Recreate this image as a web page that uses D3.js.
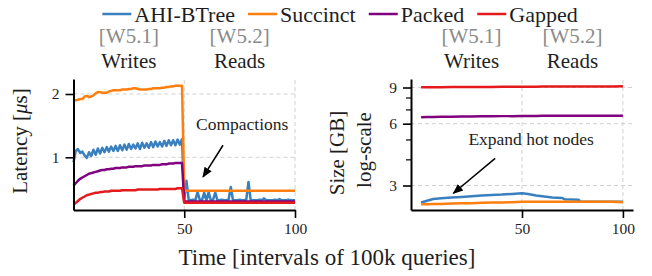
<!DOCTYPE html>
<html>
<head>
<meta charset="utf-8">
<script src="https://cdn.jsdelivr.net/npm/d3@7"></script>
<style>
  body { margin: 0; background: #fff; }
  svg { display: block; }
  text { font-family: 'Liberation Serif', 'Times New Roman', serif; }
</style>
</head>
<body>
<div id="chart"></div>
<script>
// Series and colours
const seriesNames = ["AHI-BTree", "Succinct", "Packed", "Gapped"];
const seriesColors = ["#3a80be", "#ff7f0e", "#800080", "#e41a1c"];

// Left panel: latency per interval (0..100)
const latencyTime = d3.range(0, 101);
const latencyAHI = [
  0.92,1.10,1.13,1.07,1.09,1.03,0.99,1.08,1.02,1.12,
  1.04,1.14,1.06,1.15,1.08,1.16,1.09,1.17,1.10,1.18,
  1.10,1.19,1.11,1.20,1.12,1.21,1.13,1.20,1.14,1.22,
  1.13,1.23,1.15,1.22,1.15,1.24,1.16,1.25,1.17,1.24,
  1.17,1.26,1.18,1.27,1.19,1.27,1.19,1.28,1.20,1.29,
  0.33,0.63,0.33,0.32,0.33,0.32,0.45,0.33,0.32,0.44,
  0.32,0.45,0.32,0.33,0.44,0.32,0.32,0.33,0.32,0.32,
  0.33,0.53,0.32,0.32,0.32,0.33,0.32,0.32,0.33,0.61,
  0.32,0.32,0.32,0.32,0.33,0.32,0.35,0.32,0.32,0.32,
  0.32,0.33,0.32,0.34,0.32,0.32,0.32,0.33,0.32,0.32,
  0.32
];
const latencySuccinct = [
  1.90,1.90,1.91,1.92,1.92,1.96,1.97,1.95,1.96,1.98,
  2.01,2.03,2.03,2.02,2.02,2.02,2.04,2.05,2.06,2.06,
  2.06,2.06,2.07,2.07,2.07,2.08,2.08,2.09,2.09,2.08,
  2.07,2.07,2.07,2.07,2.08,2.08,2.09,2.09,2.09,2.09,
  2.10,2.10,2.11,2.11,2.12,2.12,2.13,2.13,2.13,2.13,
  0.47,0.47,0.47,0.47,0.47,0.47,0.47,0.47,0.47,0.47,
  0.47,0.47,0.47,0.47,0.47,0.47,0.47,0.47,0.47,0.47,
  0.47,0.47,0.47,0.47,0.47,0.47,0.47,0.47,0.47,0.47,
  0.47,0.47,0.47,0.47,0.47,0.47,0.47,0.47,0.47,0.47,
  0.47,0.47,0.47,0.47,0.47,0.47,0.47,0.47,0.47,0.47,
  0.47
];
const latencyPacked = [
  0.55,0.59,0.63,0.66,0.68,0.70,0.72,0.74,0.75,0.76,
  0.77,0.78,0.79,0.80,0.80,0.81,0.81,0.82,0.82,0.83,
  0.83,0.83,0.84,0.84,0.84,0.85,0.85,0.85,0.86,0.86,
  0.86,0.86,0.87,0.87,0.87,0.87,0.88,0.88,0.88,0.88,
  0.89,0.89,0.89,0.90,0.90,0.90,0.91,0.91,0.91,0.91,
  0.30,0.30,0.30,0.30,0.30,0.30,0.30,0.30,0.30,0.30,
  0.30,0.30,0.30,0.30,0.30,0.30,0.30,0.30,0.30,0.30,
  0.30,0.30,0.30,0.30,0.30,0.30,0.30,0.30,0.30,0.30,
  0.30,0.30,0.30,0.30,0.30,0.30,0.30,0.30,0.30,0.30,
  0.30,0.30,0.30,0.30,0.30,0.30,0.30,0.30,0.30,0.30,
  0.30
];
const latencyGapped = [
  0.25,0.28,0.31,0.34,0.36,0.38,0.40,0.41,0.42,0.43,
  0.44,0.44,0.45,0.45,0.46,0.46,0.46,0.47,0.47,0.47,
  0.47,0.47,0.48,0.48,0.48,0.48,0.48,0.48,0.48,0.49,
  0.49,0.49,0.49,0.49,0.49,0.49,0.49,0.49,0.49,0.50,
  0.50,0.50,0.50,0.50,0.50,0.50,0.50,0.51,0.51,0.51,
  0.28,0.28,0.28,0.28,0.28,0.28,0.28,0.28,0.28,0.28,
  0.28,0.28,0.28,0.28,0.28,0.28,0.28,0.28,0.28,0.28,
  0.28,0.28,0.28,0.28,0.28,0.28,0.28,0.28,0.28,0.28,
  0.28,0.28,0.28,0.28,0.28,0.28,0.28,0.28,0.28,0.28,
  0.28,0.28,0.28,0.28,0.28,0.28,0.28,0.28,0.28,0.28,
  0.28
];

// Right panel: size in GB (log scale)
const sizeTime = [0,3,6,10,15,20,25,30,35,40,45,50,53,57,60,65,70,71,78,79,85,90,95,100];
const sizeAHI      = [2.48,2.53,2.58,2.60,2.62,2.64,2.66,2.68,2.70,2.71,2.73,2.75,2.73,2.68,2.66,2.62,2.61,2.57,2.56,2.50,2.50,2.50,2.50,2.50];
const sizeSuccinct = [2.43,2.43,2.44,2.44,2.45,2.46,2.46,2.47,2.48,2.48,2.49,2.50,2.50,2.50,2.50,2.50,2.50,2.50,2.50,2.50,2.50,2.50,2.50,2.49];
const sizePacked   = [6.45,6.46,6.47,6.48,6.49,6.50,6.51,6.52,6.52,6.53,6.53,6.54,6.54,6.54,6.55,6.55,6.55,6.55,6.55,6.55,6.56,6.56,6.56,6.56];
const sizeGapped   = [9.02,9.02,9.03,9.03,9.04,9.05,9.05,9.06,9.06,9.07,9.07,9.08,9.08,9.08,9.09,9.09,9.09,9.09,9.10,9.10,9.10,9.11,9.11,9.12];

// Ticks and labels
const xTicks = [50, 100];
const latencyTicks = [1, 2];
const sizeTicks = [3, 6, 9];
const sizeMinorTicks = [4, 5, 7, 8];
const phaseTags = ["[W5.1]", "[W5.2]"];
const phaseNames = ["Writes", "Reads"];
const phaseCenters = [25, 75];

const FONT = "'Liberation Serif', 'Times New Roman', serif";
const INK = "#1e1e1e";
const width = 652, height = 276;

const svg = d3.select("#chart").append("svg")
  .attr("width", width)
  .attr("height", height)
  .attr("font-family", FONT);

svg.append("rect").attr("width", width).attr("height", height).attr("fill", "#fff");

// Scales
const xLeft = d3.scaleLinear().domain([0, 100]).range([73.5, 295]);
const yLeft = d3.scaleLinear().domain([0.167, 2.237]).range([210, 79]);
const xRight = d3.scaleLinear().domain([-5, 105]).range([411, 633]);
const yRight = d3.scaleLog().domain([2.28, 9.9]).range([210, 79]);

const leftSeries = [latencyAHI, latencySuccinct, latencyPacked, latencyGapped];
const rightSeries = [sizeAHI, sizeSuccinct, sizePacked, sizeGapped];

function drawPanel(x, y, yTicks, times, series) {
  const g = svg.append("g");
  const [x0, x1] = x.range();
  const [y0, y1] = y.range();

  // grid
  g.selectAll(".hgrid").data(yTicks).enter().append("line")
    .attr("x1", x0).attr("x2", x1)
    .attr("y1", d => y(d)).attr("y2", d => y(d))
    .attr("stroke", "#d0d0d0").attr("stroke-width", 1).attr("stroke-dasharray", "4,3");
  g.selectAll(".vgrid").data(xTicks).enter().append("line")
    .attr("x1", d => x(d)).attr("x2", d => x(d))
    .attr("y1", y0).attr("y2", y1)
    .attr("stroke", "#d0d0d0").attr("stroke-width", 1).attr("stroke-dasharray", "4,3");

  // lines
  const line = d3.line().x((d, i) => x(times[i])).y(d => y(d));
  series.forEach((s, i) => {
    g.append("path")
      .attr("d", line(s))
      .attr("fill", "none")
      .attr("stroke", seriesColors[i])
      .attr("stroke-width", 2.5)
      .attr("stroke-linejoin", "round");
  });

  // axes
  const xAxis = d3.axisBottom(x).tickValues(xTicks).tickSize(8).tickPadding(5).tickSizeOuter(0);
  const gx = g.append("g").attr("transform", `translate(0,${y0})`).call(xAxis);
  const yAxis = d3.axisLeft(y).tickValues(yTicks).tickFormat(d3.format("d")).tickSize(8).tickPadding(6).tickSizeOuter(0);
  const gy = g.append("g").attr("transform", `translate(${x0},0)`).call(yAxis);
  [gx, gy].forEach(a => {
    a.attr("font-family", FONT).attr("font-size", 15.5);
    a.select(".domain").attr("stroke", "#000").attr("stroke-width", 2);
    a.selectAll(".tick line").attr("stroke", "#000").attr("stroke-width", 1.6);
    a.selectAll(".tick text").attr("fill", INK);
  });

  // phase titles
  phaseCenters.forEach((c, i) => {
    g.append("text").attr("x", x(c)).attr("y", 43).attr("text-anchor", "middle")
      .attr("fill", "#8a8a8a").attr("font-size", 21).text(phaseTags[i]);
    g.append("text").attr("x", x(c)).attr("y", 68).attr("text-anchor", "middle")
      .attr("fill", INK).attr("font-size", 21).text(phaseNames[i]);
  });
  return g;
}

const gLeft = drawPanel(xLeft, yLeft, latencyTicks, latencyTime, leftSeries);
const gRight = drawPanel(xRight, yRight, sizeTicks, sizeTime, rightSeries);

// minor ticks on log axis
gRight.selectAll(".minor").data(sizeMinorTicks).enter().append("line")
  .attr("x1", xRight.range()[0] - 5).attr("x2", xRight.range()[0])
  .attr("y1", d => yRight(d)).attr("y2", d => yRight(d))
  .attr("stroke", "#000").attr("stroke-width", 1.2);

// axis labels
svg.append("text")
  .attr("transform", "translate(26.5,141) rotate(-90)")
  .attr("text-anchor", "middle").attr("fill", INK).attr("font-size", 21)
  .call(t => {
    t.append("tspan").text("Latency [");
    t.append("tspan").attr("font-style", "italic").text("\u03bc");
    t.append("tspan").text("s]");
  });
svg.append("text")
  .attr("transform", "translate(343.5,153) rotate(-90)")
  .attr("text-anchor", "middle").attr("fill", INK).attr("font-size", 21)
  .text("Size [GB]");
svg.append("text")
  .attr("transform", "translate(371,150) rotate(-90)")
  .attr("text-anchor", "middle").attr("fill", INK).attr("font-size", 21)
  .text("log-scale");
svg.append("text")
  .attr("x", 327).attr("y", 265)
  .attr("text-anchor", "middle").attr("fill", INK).attr("font-size", 23)
  .text("Time [intervals of 100k queries]");

// annotations
svg.append("defs").append("marker")
  .attr("id", "arrowhead")
  .attr("viewBox", "0 0 10 10")
  .attr("refX", 9).attr("refY", 5)
  .attr("markerWidth", 7).attr("markerHeight", 7)
  .attr("markerUnits", "strokeWidth")
  .attr("orient", "auto")
  .append("path").attr("d", "M0,1 L10,5 L0,9 z").attr("fill", "#000");

function annotate(x, y, text, textAnchor, textPos, tail, tip) {
  svg.append("line")
    .attr("x1", x(tail[0])).attr("y1", y(tail[1]))
    .attr("x2", x(tip[0])).attr("y2", y(tip[1]))
    .attr("stroke", "#000").attr("stroke-width", 1.5)
    .attr("marker-end", "url(#arrowhead)");
  svg.append("text")
    .attr("x", x(textPos[0])).attr("y", y(textPos[1]))
    .attr("text-anchor", textAnchor).attr("fill", INK).attr("font-size", 17.5)
    .text(text);
}
annotate(xLeft, yLeft, "Compactions", "start", [55.3, 1.43], [67.5, 1.19], [58.5, 0.69]);
annotate(xRight, yRight, "Expand hot nodes", "middle", [54.5, 4.72], [36.7, 4.07], [16, 2.75]);

// legend
const legend = svg.append("g");
let cursor = 0;
seriesNames.forEach((name, i) => {
  const item = legend.append("g").attr("transform", `translate(${cursor},0)`);
  item.append("line").attr("x1", 0).attr("x2", 29).attr("y1", 14).attr("y2", 14)
    .attr("stroke", seriesColors[i]).attr("stroke-width", 2.5);
  const t = item.append("text").attr("x", 32).attr("y", 22)
    .attr("fill", INK).attr("font-size", 22).text(name);
  cursor += 32 + t.node().getComputedTextLength() + 13;
});
cursor -= 13;
legend.attr("transform", `translate(${340 - cursor / 2},0)`);
</script>
</body>
</html>
